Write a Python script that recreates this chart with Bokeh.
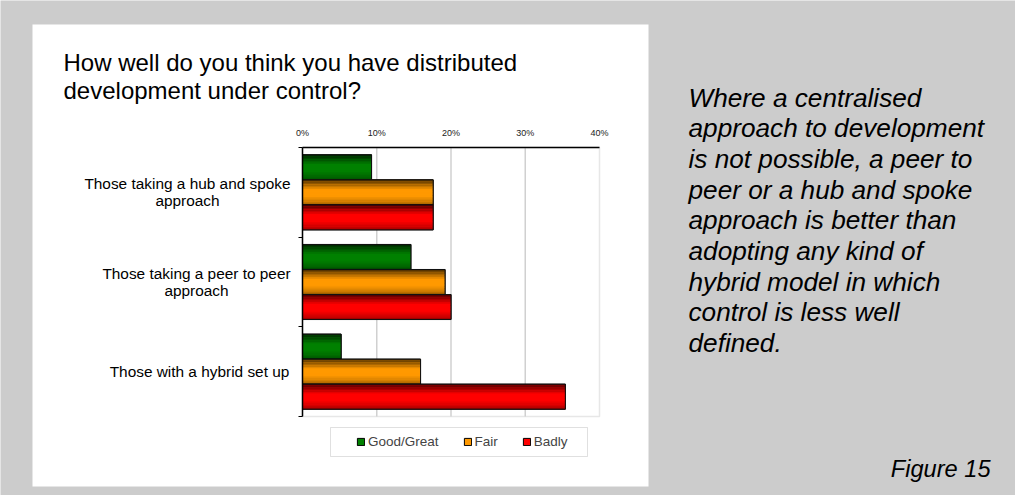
import numpy as np
from bokeh.plotting import figure
from bokeh.models import (Range1d, FixedTicker, PrintfTickFormatter, Label,
                          BoxAnnotation, Legend, LegendItem, LinearAxis)
from bokeh.embed import file_html
from bokeh.resources import INLINE

# ---- data -------------------------------------------------------------
categories = [
    ["Those taking a hub and spoke", "approach"],
    ["Those taking a peer to peer", "approach"],
    ["Those with a hybrid set up"],
]
series_names = ["Good/Great", "Fair", "Badly"]
good_great = [9.3, 14.6, 5.2]
fair = [17.6, 19.2, 15.9]
badly = [17.6, 20.0, 35.4]
x_ticks = [0, 10, 20, 30, 40]

title_lines = ["How well do you think you have distributed",
               "development under control?"]
note_lines = ["Where a centralised", "approach to development",
              "is not possible, a peer to", "peer or a hub and spoke",
              "approach is better than", "adopting any kind of",
              "hybrid model in which", "control is less well", "defined."]
figure_caption = "Figure 15"

# ---- page geometry ----------------------------------------------------
series_values = [good_great, fair, badly]
base_colors = [(0, 128, 0), (255, 153, 0), (255, 0, 0)]
FONT = "Liberation Sans"
GREY = "#cccccc"

W, H = 1015, 495
PL, PR, PT, PB = 302, 599, 147, 416     # plot area edges, canvas pixels
X_MAX = 40.0
n_cat = len(categories)

# the frame fills the whole canvas; ranges are set so that the value
# axis runs 0..40 % across the plot area and the categories fill PT..PB
xs = (PR - PL) / X_MAX
ys = (PB - PT) / n_cat
x_range = Range1d(-PL / xs, (W - PL) / xs)
y_range = Range1d(n_cat + (H - PB) / ys, -PT / ys)   # flipped: top -> bottom

p = figure(width=W, height=H, output_backend="svg", toolbar_location=None,
           x_range=x_range, y_range=y_range, x_axis_type=None,
           y_axis_type=None, min_border=0)
p.border_fill_color = GREY
p.background_fill_color = GREY
p.outline_line_color = None
p.grid.visible = False

# white card behind the chart
p.add_layout(BoxAnnotation(left=32, right=648, top=24, bottom=486,
                           left_units="canvas", right_units="canvas",
                           top_units="canvas", bottom_units="canvas",
                           fill_color="white", fill_alpha=1.0,
                           line_color=None, level="image"))

# plot area border (right / bottom edges in grey)
p.add_layout(BoxAnnotation(left=0, right=X_MAX, top=0, bottom=n_cat,
                           fill_color="white", fill_alpha=1.0,
                           line_color="#b0b0b0", line_width=1.5,
                           level="image"))

# vertical grid lines
p.segment(x0=x_ticks[1:-1], x1=x_ticks[1:-1], y0=0, y1=n_cat,
          line_color="#d0d0d0", line_width=1.5)

# value axis along the top edge of the plot area
xa = LinearAxis(fixed_location=0, bounds=(0, X_MAX),
                ticker=FixedTicker(ticks=x_ticks),
                formatter=PrintfTickFormatter(format="%d%%"))
xa.major_tick_line_color = None
xa.minor_tick_line_color = None
xa.axis_line_color = "black"
xa.axis_line_width = 1.5
xa.major_label_text_font = FONT
xa.major_label_text_font_size = "9px"
xa.major_label_text_color = "#222222"
xa.major_label_standoff = 4
p.add_layout(xa, "above")

# category axis along the left edge, ticks between the groups
ya = LinearAxis(fixed_location=0, bounds=(0, n_cat),
                ticker=FixedTicker(ticks=[], minor_ticks=list(range(n_cat + 1))))
ya.major_tick_line_color = None
ya.minor_tick_out = 4
ya.minor_tick_in = 0
ya.minor_tick_line_color = "black"
ya.axis_line_color = "black"
ya.axis_line_width = 1.5
p.add_layout(ya, "left")

# ---- bars -------------------------------------------------------------
centers = np.arange(n_cat) + 0.5
bh = 0.279                     # bar thickness in category units
offsets = [-bh, 0.0, bh]

# vertical shading profile across each bar (0 = top edge, 1 = bottom edge)
prof_t = [0.0, 0.15, 0.4, 0.65, 0.9, 1.0]
prof_f = [0.28, 0.55, 1.0, 1.0, 0.78, 0.55]
n_strips = 16

def shade(rgb, f):
    r, g, b = (int(round(c * f)) for c in rgb)
    return "#%02x%02x%02x" % (r, g, b)

legend_items = []
for name, vals, rgb, off in zip(series_names, series_values, base_colors, offsets):
    yc = centers + off
    base = p.hbar(y=yc, left=0, right=vals, height=bh,
                  fill_color=shade(rgb, 1.0), line_color="black", line_width=1)
    legend_items.append(LegendItem(label=name, renderers=[base]))
    sh = bh / n_strips
    for k in range(n_strips):
        t = (k + 0.5) / n_strips
        f = float(np.interp(t, prof_t, prof_f))
        p.hbar(y=yc - bh / 2 + (k + 0.5) * sh, left=0, right=vals,
               height=sh * 1.1, fill_color=shade(rgb, f), line_color=None)
    p.hbar(y=yc, left=0, right=vals, height=bh, fill_color=None,
           line_color="#111111", line_width=1)

# ---- category labels --------------------------------------------------
label_cx = [187, 196, 199]
for lines, yc, cx in zip(categories, centers, label_cx):
    n = len(lines)
    for i, line in enumerate(lines):
        p.add_layout(Label(x=cx, x_units="canvas",
                           y=yc + (i - (n - 1) / 2) * 0.19,
                           text=line, text_align="center",
                           text_baseline="middle", text_font=FONT,
                           text_font_size="15.4px", text_color="black"))

# ---- legend -----------------------------------------------------------
p.add_layout(BoxAnnotation(left=330, right=587, top=427, bottom=456,
                           left_units="canvas", right_units="canvas",
                           top_units="canvas", bottom_units="canvas",
                           fill_color="white", fill_alpha=1.0,
                           line_color="#999999", line_width=1))
legend = Legend(items=legend_items, orientation="horizontal",
                location=(356, H - 449), padding=0, margin=0, spacing=24,
                glyph_width=9, glyph_height=9, label_standoff=3,
                label_height=16, label_text_font=FONT,
                label_text_font_size="13.5px",
                border_line_color=None, background_fill_alpha=0)
p.add_layout(legend, "center")

# ---- title and side note ----------------------------------------------
for i, line in enumerate(title_lines):
    p.add_layout(Label(x=63, y=62 + i * 28, x_units="canvas", y_units="canvas",
                       text=line, text_baseline="middle", text_font=FONT,
                       text_font_size="24px", text_color="black"))

for i, line in enumerate(note_lines):
    p.add_layout(Label(x=688, y=97 + i * 30.7, x_units="canvas",
                       y_units="canvas", text=line, text_baseline="middle",
                       text_font=FONT, text_font_style="italic",
                       text_font_size="26.2px", text_color="black"))

p.add_layout(Label(x=990, y=468, x_units="canvas", y_units="canvas",
                   text=figure_caption, text_align="right",
                   text_baseline="middle", text_font=FONT,
                   text_font_style="italic", text_font_size="23.6px",
                   text_color="black"))

open("out.html", "w").write(file_html(p, INLINE))
